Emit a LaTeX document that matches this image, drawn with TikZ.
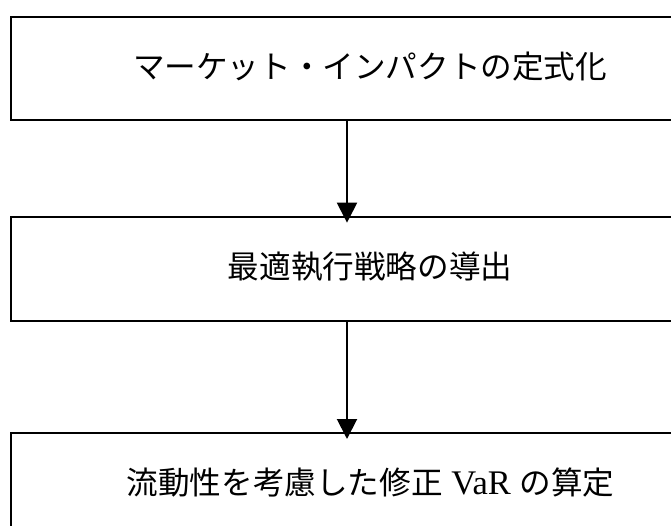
\documentclass[tikz,border=0pt]{standalone}
\usepackage{fontspec}
\setmainfont{Liberation Serif}
\newfontfamily\jpfont{Noto Sans CJK JP}
\usetikzlibrary{arrows.meta}
\tikzset{
  flowbox/.style={draw=black, line width=2pt, minimum width=672pt, inner sep=0pt, anchor=north},
  flowtext/.style={font=\fontsize{31.6pt}{36pt}\selectfont\jpfont, inner sep=0pt, anchor=center},
  flowarrow/.style={line width=2pt, -{Triangle[length=20pt,width=20pt]}, shorten >=-7pt}
}
\begin{document}
\begin{tikzpicture}[x=1pt,y=1pt]
\useasboundingbox (0,0) rectangle (671,-526);
\node[flowbox, minimum height=103.3pt] (b1) at (347,-15.7) {};
\node[flowbox, minimum height=103.8pt] (b2) at (347,-215.7) {};
\node[flowbox, minimum height=130pt] (b3) at (347,-432) {};
\node[flowtext] (t1) at (370,-67) {マーケット・インパクトの定式化};
\node[flowtext] (t2) at (370,-267) {最適執行戦略の導出};
\node[flowtext] (t3) at (370.5,-482) {流動性を考慮した修正{\rmfamily\fontsize{34.5pt}{36pt}\selectfont\ VaR\ }の算定};
\draw[flowarrow] (b1.south) -- (b2.north);
\draw[flowarrow] (b2.south) -- (b3.north);
\end{tikzpicture}
\end{document}
